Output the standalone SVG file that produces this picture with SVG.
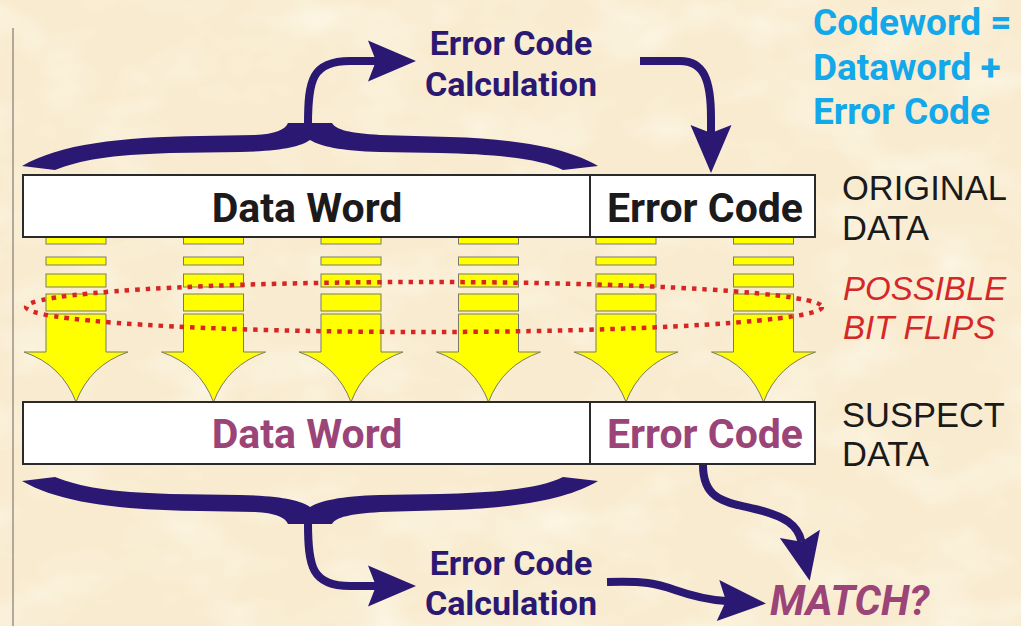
<svg xmlns="http://www.w3.org/2000/svg" width="1021" height="626" viewBox="0 0 1021 626">
  <defs>
    <style>
      .box { fill: #ffffff; stroke: #2a2a2a; stroke-width: 2; }
      .bar { fill: #ffff00; stroke: #7a7a6a; stroke-width: 1; }
      .flow { fill: none; stroke: #2a1873; stroke-width: 8; }
      .brace { fill: #2a1873; }
      .boxtxt { font-family: Roboto, "Liberation Sans", sans-serif; font-weight: bold; font-size: 41px; text-anchor: middle; }
      .orig { fill: #1c1a1a; }
      .susp { fill: #9a4478; }
      .calc { font-family: Roboto, "Liberation Sans", sans-serif; font-weight: bold; font-size: 34px; fill: #2a1873; text-anchor: middle; }
      .side { font-family: "Liberation Sans", Arial, sans-serif; font-size: 34.5px; fill: #1a1a1a; }
      .flip { font-family: "Liberation Sans", Arial, sans-serif; font-size: 33px; font-style: italic; fill: #d42828; }
      .note { font-family: Roboto, "Liberation Sans", sans-serif; font-weight: bold; font-size: 37px; fill: #12a8ea; }
      .match { font-family: Roboto, "Liberation Sans", sans-serif; font-weight: bold; font-style: italic; font-size: 41.5px; fill: #9a4478; }
    </style>
    <filter id="paper" x="0" y="0" width="100%" height="100%">
      <feTurbulence type="fractalNoise" baseFrequency="0.012 0.02" numOctaves="3" seed="7" result="n"/>
      <feColorMatrix in="n" type="matrix" values="0 0 0 0 1  0 0 0 0 0.97  0 0 0 0 0.86  0 0 0 -2.2 1.25"/>
    </filter>
    <marker id="head" viewBox="-10 -22 52 44" refX="0" refY="0" markerWidth="52" markerHeight="44" markerUnits="userSpaceOnUse" orient="auto">
      <path d="M40,0 L-8,-20.5 L0,0 L-8,20.5 Z" fill="#2a1873"/>
    </marker>
    <!-- curly brace with its branch arrow; drawn once, mirrored for the lower copy -->
    <g id="braceArrow">
      <path class="brace" d="M22,166 C60,144 120,137 200,136 L255,135 C275,134 285,130 288,123 L332,123 C336,130 350,133 380,135 L450,137 C520,139 570,149 598,166 L563,170 C540,158 490,154 440,153 L380,152 C340,151 320,146 310,140 C300,147 280,151 240,152 L170,153 C110,155 80,160 55,170 Z"/>
      <path class="flow" d="M308,124 C308,80 312,61 350,61 L376,61" marker-end="url(#head)"/>
    </g>
    <!-- one yellow column: stacked bars and an arrow with curved-in sides -->
    <g id="col">
      <rect class="bar" x="-30" y="236" width="60" height="8"/>
      <rect class="bar" x="-30" y="257" width="60" height="8"/>
      <rect class="bar" x="-30" y="274" width="60" height="13"/>
      <rect class="bar" x="-30" y="294" width="60" height="17"/>
      <path class="bar" d="M-30,314 H30 V352 H52 Q14,365 0,402 Q-14,365 -52,352 H-30 Z"/>
    </g>
  </defs>

  <!-- parchment background -->
  <rect width="1021" height="626" fill="#f8ebcf"/>
  <rect width="1021" height="626" filter="url(#paper)" opacity="0.6"/>
  <line x1="13" y1="28" x2="13" y2="626" stroke="#9a9088" stroke-width="1.5"/>

  <!-- bit columns between the two words -->
  <g id="bit-columns">
    <use href="#col" x="76"/>
    <use href="#col" x="213.5"/>
    <use href="#col" x="351"/>
    <use href="#col" x="488.5"/>
    <use href="#col" x="626"/>
    <use href="#col" x="763.5"/>
  </g>

  <!-- region where bits may flip -->
  <g id="flip-zone">
    <ellipse cx="424" cy="307" rx="398" ry="25" fill="none" stroke="#d82424" stroke-width="4.5" stroke-dasharray="4.5 6"/>
  </g>

  <g id="original-data">
    <rect class="box" x="23" y="175" width="567" height="62"/>
    <text class="boxtxt orig" x="307" y="222">Data Word</text>
  </g>
  <g id="original-code">
    <rect class="box" x="590" y="175" width="225" height="62"/>
    <text class="boxtxt orig" x="705" y="222">Error Code</text>
  </g>
  <g id="suspect-data">
    <rect class="box" x="23" y="402" width="567" height="62"/>
    <text class="boxtxt susp" x="307" y="448">Data Word</text>
  </g>
  <g id="suspect-code">
    <rect class="box" x="590" y="402" width="225" height="62"/>
    <text class="boxtxt susp" x="705" y="448">Error Code</text>
  </g>

  <g id="calc-top">
    <text class="calc" x="511" y="55">Error Code</text>
    <text class="calc" x="511" y="96">Calculation</text>
  </g>
  <g id="calc-bottom">
    <text class="calc" x="511" y="575">Error Code</text>
    <text class="calc" x="511" y="615">Calculation</text>
  </g>
  <g id="match">
    <text class="match" x="770" y="615">MATCH?</text>
  </g>

  <g id="labels">
    <text class="side" x="842" y="200">ORIGINAL</text>
    <text class="side" x="842" y="240">DATA</text>
    <text class="flip" x="843" y="300">POSSIBLE</text>
    <text class="flip" x="843" y="339">BIT FLIPS</text>
    <text class="side" x="842" y="427">SUSPECT</text>
    <text class="side" x="842" y="466">DATA</text>
    <text class="note" x="813" y="35">Codeword =</text>
    <text class="note" x="813" y="80">Dataword +</text>
    <text class="note" x="813" y="124">Error Code</text>
  </g>

  <g id="connectors">
    <use href="#braceArrow"/>
    <use href="#braceArrow" transform="matrix(1 0 0 -1 0 647)"/>
    <path class="flow" d="M640,61 L680,61 C704,61 711,80 711,118 L711,133" marker-end="url(#head)"/>
    <path class="flow" d="M607,582 C645,581 655,583 675,590 C695,597 710,600 726,601" marker-end="url(#head)"/>
    <path class="flow" d="M703,465 C703,500 725,502 755,509 C785,516 798,525 801.5,541.7" marker-end="url(#head)"/>
  </g>
</svg>
